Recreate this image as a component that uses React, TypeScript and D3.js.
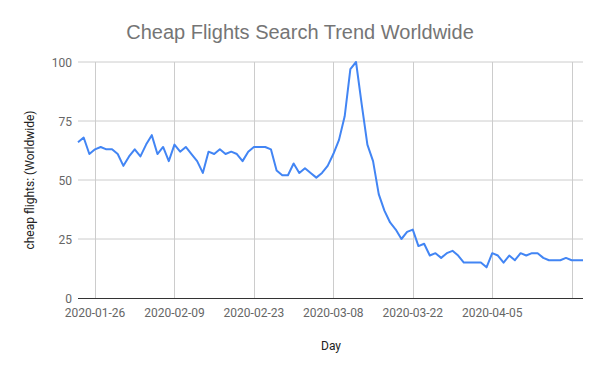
import React from 'react';
import * as d3 from 'd3';

const startDay = '2020-01-23';
const searchValues = [
  66, 68, 61, 63, 64, 63, 63, 61, 56, 60, 63, 60, 65, 69, 61, 64, 58, 65, 62, 64,
  61, 58, 53, 62, 61, 63, 61, 62, 61, 58, 62, 64, 64, 64, 63, 54, 52, 52, 57, 53,
  55, 53, 51, 53, 56, 61, 67, 77, 97, 100, 82, 65, 58, 44, 37, 32, 29, 25, 28, 29,
  22, 23, 18, 19, 17, 19, 20, 18, 15, 15, 15, 15, 13, 19, 18, 15, 18, 16, 19, 18,
  19, 19, 17, 16, 16, 16, 17, 16, 16, 16,
];
const xTickDays = ['2020-01-26', '2020-02-09', '2020-02-23', '2020-03-08', '2020-03-22', '2020-04-05', '2020-04-19'];
const xLabelDays = ['2020-01-26', '2020-02-09', '2020-02-23', '2020-03-08', '2020-03-22', '2020-04-05'];
const yTicks = [0, 25, 50, 75, 100];

const parse = d3.utcParse('%Y-%m-%d');

const App = () => {
  const width = 600;
  const height = 371;
  const margin = { top: 62, right: 17, bottom: 73, left: 78 };

  const t0 = parse(startDay) as Date;
  const data = searchValues.map((v, i) => ({ date: d3.utcDay.offset(t0, i), value: v }));

  const x = d3.scaleUtc()
    .domain(d3.extent(data, d => d.date) as [Date, Date])
    .range([margin.left, width - margin.right]);
  const y = d3.scaleLinear().domain([0, 100]).range([height - margin.bottom, margin.top]);

  const line = d3.line<{ date: Date; value: number }>()
    .x(d => x(d.date))
    .y(d => y(d.value));

  const fmt = d3.utcFormat('%Y-%m-%d');

  return (
    <svg width={width} height={height} style={{ position: 'absolute', left: 0, top: 0, background: '#fff' }}>
      <text x={300} y={39} textAnchor="middle" fontFamily="Liberation Sans, Arial, sans-serif" fontSize={20} fill="#757575">
        Cheap Flights Search Trend Worldwide
      </text>
      {/* horizontal grid */}
      {yTicks.filter(t => t > 0).map(t => (
        <line key={'h' + t} x1={margin.left} x2={width - margin.right} y1={y(t)} y2={y(t)} stroke="#cccccc" strokeWidth={1} />
      ))}
      {/* vertical grid */}
      {xTickDays.map(s => {
        const px = Math.round(x(parse(s) as Date)) + 0.5;
        return <line key={'v' + s} x1={px} x2={px} y1={margin.top} y2={y(0)} stroke="#cccccc" strokeWidth={1} />;
      })}
      {yTicks.map(t => (
        <text key={'yl' + t} x={72} y={y(t) + 4.5} textAnchor="end" fontFamily="Roboto, sans-serif" fontSize={12} fill="#666">
          {t}
        </text>
      ))}
      {xLabelDays.map(s => (
        <text key={'xl' + s} x={x(parse(s) as Date)} y={317} textAnchor="middle" fontFamily="Roboto, sans-serif" fontSize={12} fill="#666">
          {fmt(parse(s) as Date)}
        </text>
      ))}
      <path d={line(data) ?? ''} fill="none" stroke="#4285f4" strokeWidth={2} strokeLinejoin="round" />
      <line x1={margin.left} x2={width - margin.right} y1={y(0) + 0.5} y2={y(0) + 0.5} stroke="#333" strokeWidth={1} />
      <text x={331} y={350} textAnchor="middle" fontFamily="Roboto, sans-serif" fontSize={12} fill="#222">
        Day
      </text>
      <text transform={`translate(34,${(margin.top + y(0)) / 2}) rotate(-90)`} textAnchor="middle" fontFamily="Roboto, sans-serif" fontSize={12} fill="#222">
        cheap flights: (Worldwide)
      </text>
    </svg>
  );
};

export default App;
